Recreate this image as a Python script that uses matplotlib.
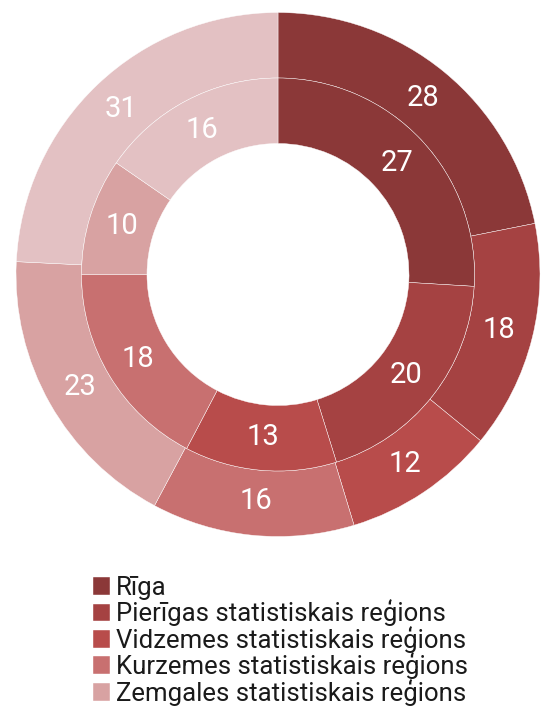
import matplotlib.pyplot as plt

plt.rcParams['font.family'] = ['Roboto', 'DejaVu Sans']

regions = ["Rīga", "Pierīgas statistiskais reģions", "Vidzemes statistiskais reģions",
           "Kurzemes statistiskais reģions", "Zemgales statistiskais reģions",
           "Latgales statistiskais reģions"]
outer_vals = [28, 18, 12, 16, 23, 31]
inner_vals = [27, 20, 13, 18, 10, 16]
colors = ["#8B3838", "#A54242", "#B84C4B", "#C87070", "#D8A2A2", "#E3C1C3"]

fig = plt.figure(figsize=(5.41, 7.13), dpi=100)
ax = fig.add_axes([16 / 541, 176.5 / 713, 524 / 541, 524 / 713])

wedges, texts = ax.pie(outer_vals, radius=1.0, colors=colors, startangle=90, counterclock=False,
                       labels=[str(v) for v in outer_vals], labeldistance=0.87,
                       wedgeprops=dict(width=0.25, edgecolor='white', linewidth=0.3),
                       textprops=dict(color='white', fontsize=21, ha='center', va='center'))
ax.pie(inner_vals, radius=0.75, colors=colors, startangle=90, counterclock=False,
       labels=[str(v) for v in inner_vals], labeldistance=0.83,
       wedgeprops=dict(width=0.25, edgecolor='white', linewidth=0.3),
       textprops=dict(color='white', fontsize=21, ha='center', va='center'))
ax.set_xlim(-1, 1)
ax.set_ylim(-1, 1)
ax.set_aspect('equal')

# the last legend row falls below the visible area in the original
fig.legend(wedges[:5], regions[:5], loc='upper left', bbox_to_anchor=(93 / 541, 1 - 576 / 713),
           frameon=False, fontsize=18.5, handlelength=0.68, handleheight=0.68,
           handletextpad=0.2, labelspacing=-0.02, borderpad=0, borderaxespad=0,
           labelcolor='#1a1a1a')

fig.savefig('out.png', dpi=100)
